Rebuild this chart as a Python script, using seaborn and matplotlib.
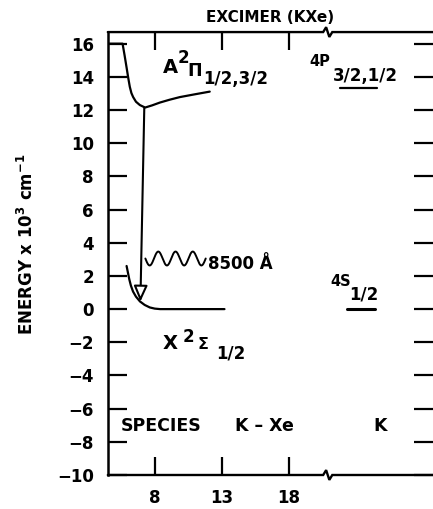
import numpy as np
import pandas as pd
import matplotlib
matplotlib.use("Agg")
import matplotlib.pyplot as plt
import seaborn as sns
from matplotlib.patches import FancyArrowPatch

# ---- data ----
a_state_x = [4.5, 5.6, 5.75, 5.9, 6.02, 6.14, 6.26, 6.39, 6.6, 6.89, 7.28, 7.8, 8.38, 9.1, 9.87, 11.0, 12.1]
a_state_y = [16.0, 16.0, 15.3, 14.56, 13.95, 13.4, 13.02, 12.78, 12.5, 12.3, 12.15, 12.28, 12.45, 12.62, 12.78, 12.95, 13.11]
x_state_x = [5.9, 6.0, 6.1, 6.22, 6.38, 6.6, 6.9, 7.25, 7.63, 8.0, 8.4, 13.2]
x_state_y = [2.6, 2.2, 1.8, 1.42, 1.06, 0.75, 0.46, 0.25, 0.1, 0.03, 0.0, 0.0]
level_4p_x = [21.8, 24.6]
level_4p_y = [13.3, 13.3]
level_4s_x = [22.3, 24.4]
level_4s_y = [0.0, 0.0]
arrow_from = (7.22, 12.15)
arrow_to = (6.93, 0.45)
emission_x = [7.3, 11.8]
emission_y = 3.05
x_ticks = [8, 13, 18]
y_ticks = list(range(-10, 17, 2))
break_x = 20.9
xlim = (4.5, 28.75)
ylim = (-10, 16.7)

sns.set_theme(style="ticks")
plt.rcParams["font.family"] = ["DejaVu Sans"]
plt.rcParams["font.weight"] = "bold"
plt.rcParams["mathtext.default"] = "regular"
for key in ["text.color", "axes.labelcolor", "xtick.color", "ytick.color", "axes.edgecolor"]:
    plt.rcParams[key] = "black"

fig = plt.figure(figsize=(4.33, 5.09), dpi=100)
ax = fig.add_axes([0.249, 0.0668, 0.751, 0.8702])

dfa = pd.DataFrame({"x": a_state_x, "y": a_state_y})
dfx = pd.DataFrame({"x": x_state_x, "y": x_state_y})
sns.lineplot(data=dfa, x="x", y="y", sort=False, color="black", lw=1.6, ax=ax)
sns.lineplot(data=dfx, x="x", y="y", sort=False, color="black", lw=1.6, ax=ax)
sns.lineplot(x=level_4p_x, y=level_4p_y, color="black", lw=1.6, ax=ax)
sns.lineplot(x=level_4s_x, y=level_4s_y, color="black", lw=2.2, ax=ax)

arr = FancyArrowPatch(arrow_from, arrow_to, arrowstyle="-|>,head_length=6,head_width=2.6",
                      fc="white", ec="black", lw=1.5, shrinkA=0, shrinkB=0, mutation_scale=1.6)
ax.add_patch(arr)

# squiggle symbol for the emitted photon
t = np.linspace(0, 1, 300)
wx = emission_x[0] + (emission_x[1] - emission_x[0]) * t
wy = emission_y + 0.42 * np.sin(2 * np.pi * 3.5 * t + np.pi)
ax.plot(wx, wy, color="black", lw=1.4)

ax.set_xlim(*xlim)
ax.set_ylim(*ylim)
ax.set_xticks(x_ticks)
ax.set_xticklabels([str(v) for v in x_ticks])
ax.set_yticks(y_ticks)
ax.set_yticklabels([f"{v}".replace("-", "\u2212") for v in y_ticks])
ax.set_xlabel("")
ax.set_ylabel("ENERGY x 10$^3$ cm$^{-1}$", fontsize=12, fontweight="bold", color="black")
ax.yaxis.set_label_coords(-0.218, 0.52)

ax.tick_params(axis="x", direction="in", length=13, width=1.6, top=True, bottom=True,
               labelsize=12, pad=10, colors="black")
ax.tick_params(axis="y", direction="in", length=14, width=1.6, left=True, right=True,
               labelsize=12, pad=10, colors="black")
for lab in ax.get_xticklabels() + ax.get_yticklabels():
    lab.set_fontweight("bold")

for s in ["top", "bottom", "right"]:
    ax.spines[s].set_visible(False)
ax.spines["left"].set_linewidth(1.8)
ax.spines["left"].set_color("black")

# top/bottom spines with break marks
bx = (break_x - xlim[0]) / (xlim[1] - xlim[0])
tr = ax.transAxes
dx = 0.014
dy = 0.011
for y0 in (1.0, 0.0):
    xs = [0, bx - dx, bx - dx * 0.35, bx + dx * 0.35, bx + dx, 1]
    ys = [y0, y0, y0 + dy, y0 - dy, y0, y0]
    ax.plot(xs, ys, transform=tr, color="black", lw=1.7, clip_on=False,
            solid_joinstyle="miter")

ax.set_title("EXCIMER (KXe)", fontsize=11, fontweight="bold", pad=7, color="black")

kw = dict(fontweight="bold", va="baseline", ha="left", color="black")
# A 2Pi label
ax.text(8.6, 14.24, "A", fontsize=14, **kw)
ax.text(9.72, 14.85, "2", fontsize=12, **kw)
ax.text(10.4, 14.06, "\u03a0", fontsize=12.5, **kw)
ax.text(11.6, 13.58, "1/2,3/2", fontsize=12, **kw)
# 4P label
ax.text(19.5, 14.65, "4P", fontsize=10.5, **kw)
ax.text(21.25, 13.76, "3/2,1/2", fontsize=12, **kw)
# 4S label
ax.text(21.1, 1.37, "4S", fontsize=10.5, **kw)
ax.text(22.5, 0.58, "1/2", fontsize=12, **kw)
# X 2Sigma label
ax.text(8.6, -2.38, "X", fontsize=14, **kw)
ax.text(10.1, -1.96, "2", fontsize=12, **kw)
ax.text(11.2, -2.38, "\u03a3", fontsize=11.5, **kw)
ax.text(12.6, -2.98, "1/2", fontsize=12, **kw)
# wavelength
ax.text(12.0, 2.44, "8500 \u00c5", fontsize=12, **kw)
# species row
ax.text(5.5, -7.35, "SPECIES", fontsize=12.5, **kw)
ax.text(14.0, -7.35, "K \u2013 Xe", fontsize=12.5, **kw)
ax.text(24.3, -7.35, "K", fontsize=12.5, **kw)

fig.savefig("out.png", dpi=100)
